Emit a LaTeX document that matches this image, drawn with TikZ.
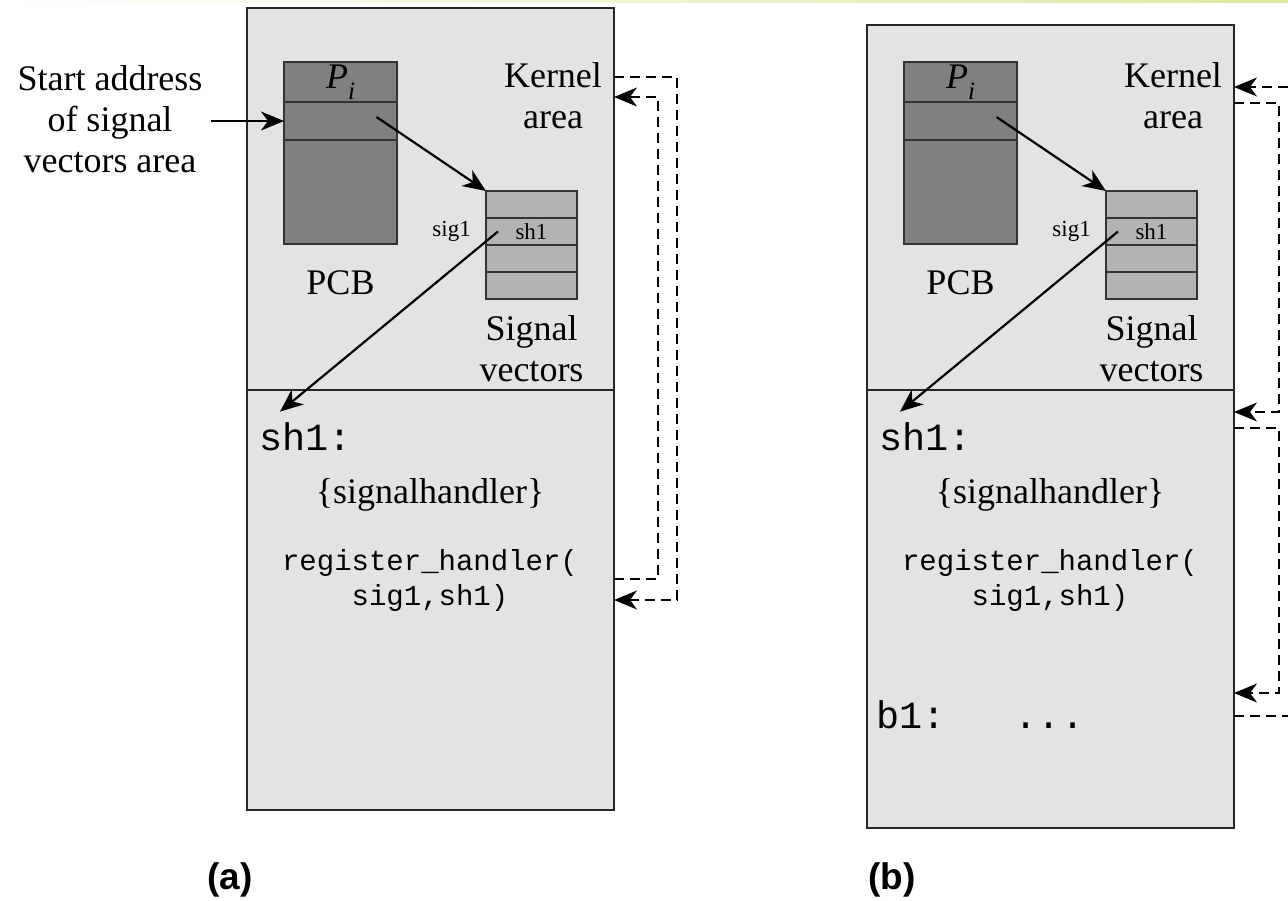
\documentclass[tikz,border=0pt]{standalone}
\usepackage{fontspec}
\setmainfont{Liberation Serif}
\setsansfont{Liberation Sans}
\setmonofont{Liberation Mono}
\usetikzlibrary{positioning,arrows.meta}
\definecolor{zonegray}{HTML}{E3E3E3}
\definecolor{pcbgray}{HTML}{808080}
\definecolor{vecgray}{HTML}{B3B3B3}
\definecolor{bargreen}{HTML}{DCE9A0}
\newcommand{\bigserif}{\fontsize{36}{41}\selectfont}
\newcommand{\smallserif}{\fontsize{23}{26}\selectfont}
\newcommand{\codebig}{\fontsize{38.5}{44}\selectfont\ttfamily}
\newcommand{\codesmall}{\fontsize{29}{35}\selectfont\ttfamily}
\newcommand{\panelfont}{\fontsize{37}{40}\selectfont\sffamily\bfseries}
\newcommand{\procname}{\itshape P\raisebox{-0.3em}{\fontsize{25}{25}\selectfont i}}

\begin{document}
\begin{tikzpicture}[x=1pt, y=-1pt, >={Stealth[length=23pt,width=19pt,inset=7pt]}, font=\bigserif]
        \tikzstyle{zone} = [rectangle, draw=black!85, fill=zonegray, line width=1.6pt,
                            minimum width=367pt, inner sep=0pt, outer sep=0pt]
        \tikzstyle{pcbcell} = [rectangle, draw=black!80, fill=pcbgray, line width=1.6pt,
                            minimum width=113pt, inner sep=0pt, outer sep=0pt]
        \tikzstyle{veccell} = [rectangle, draw=black!80, fill=vecgray, line width=1.6pt, font=\smallserif,
                            minimum width=91pt, minimum height=27pt, inner sep=0pt, outer sep=0pt]
        \tikzstyle{txt} = [align=center, inner sep=0pt]
        \tikzstyle{ptr} = [->, line width=2.2pt]
        \tikzstyle{ctrlflow} = [->, line width=1.4pt, dash pattern=on 10pt off 6pt]

        \useasboundingbox (0,0) rectangle (1288,901);
        \shade[left color=white, right color=bargreen] (0,0) rectangle (1288,3);

        % Partie (a)
        \node[zone, minimum height=382pt] (kernelA) at (430.5,199) {};
        \node[zone, minimum height=420pt, below=0pt of kernelA] (userA) {};
        \node[pcbcell, minimum height=40pt] (piA) at (340.5,82) {\procname};
        \node[pcbcell, minimum height=38pt, below=0pt of piA] (ptrA) {};
        \node[pcbcell, minimum height=104pt, below=0pt of ptrA] (restA) {};
        \node[txt, below=26pt of restA] (pcbA) {PCB};
        \node[veccell] (sv1A) at (531.5,204.5) {};
        \node[veccell, below=0pt of sv1A] (sv2A) {sh1};
        \node[veccell, below=0pt of sv2A] (sv3A) {};
        \node[veccell, below=0pt of sv3A] (sv4A) {};
        \node[txt, font=\smallserif, left=15pt of sv2A] (sigA) {sig1};
        \node[txt, below=16pt of sv4A] (svlabA) {Signal\\vectors};
        \node[txt] (kernA) at (553,96) {Kernel\\area};
        \node[txt] (startA) at (110,119) {Start address\\of signal\\vectors area};
        \node[txt, font=\codebig, anchor=west] (shA) at (259,437) {sh1:};
        \node[txt] (handA) at (430,495) {\{signalhandler\}};
        \node[txt, font=\codesmall] (regA) at (430,580) {register\_handler(\\sig1,sh1)};
        \node[txt, font=\panelfont] (labA) at (230,880) {(a)};

        % Partie (b)
        \node[zone, minimum height=365pt] (kernelB) at (1050.5,207.5) {};
        \node[zone, minimum height=438pt, below=0pt of kernelB] (userB) {};
        \node[pcbcell, minimum height=40pt] (piB) at (960.5,82) {\procname};
        \node[pcbcell, minimum height=38pt, below=0pt of piB] (ptrB) {};
        \node[pcbcell, minimum height=104pt, below=0pt of ptrB] (restB) {};
        \node[txt, below=26pt of restB] (pcbB) {PCB};
        \node[veccell] (sv1B) at (1151.5,204.5) {};
        \node[veccell, below=0pt of sv1B] (sv2B) {sh1};
        \node[veccell, below=0pt of sv2B] (sv3B) {};
        \node[veccell, below=0pt of sv3B] (sv4B) {};
        \node[txt, font=\smallserif, left=15pt of sv2B] (sigB) {sig1};
        \node[txt, below=16pt of sv4B] (svlabB) {Signal\\vectors};
        \node[txt] (kernB) at (1173,96) {Kernel\\area};
        \node[txt, font=\codebig, anchor=west] (shB) at (879,437) {sh1:};
        \node[txt] (handB) at (1050,495) {\{signalhandler\}};
        \node[txt, font=\codesmall] (regB) at (1050,580) {register\_handler(\\sig1,sh1)};
        \node[txt, font=\codebig, anchor=west] (b1B) at (876,715) {b1:\ \ \ ...};
        \node[txt, font=\panelfont] (labB) at (892,880) {(b)};
        \coordinate (inB) at (1288,87);
        \coordinate (outB) at (1288,716);

        % Flèches
        \draw[ptr] ([xshift=8pt]startA.east |- ptrA.west) -- (ptrA.west);
        \draw[ptr] ([xshift=36pt,yshift=4pt]ptrA.center) -- (sv1A.north west);
        \draw[ptr] ([xshift=12pt]sv2A.west) -- ([xshift=21pt,yshift=11pt]shA.north west);
        \draw[ptr] ([xshift=36pt,yshift=4pt]ptrB.center) -- (sv1B.north west);
        \draw[ptr] ([xshift=12pt]sv2B.west) -- ([xshift=21pt,yshift=11pt]shB.north west);

        % Flèches en pointillés
        \draw[ctrlflow] ([yshift=-69pt]kernelA.north east) -- ++(63,0) |- (userA.east);
        \draw[ctrlflow] ([yshift=21pt]userA.east) -- ++(44,0) |- ([yshift=-89pt]kernelA.north east);
        \draw[ctrlflow] (inB) -- (inB -| kernelB.east);
        \draw[ctrlflow] ([yshift=-78pt]kernelB.north east) -- ++(45,0) |- ([yshift=-22pt]userB.north east);
        \draw[ctrlflow] ([yshift=-38pt]userB.north east) -- ++(45,0) |- ([yshift=-303pt]userB.north east);
        \draw[ctrlflow, -] ([yshift=-326pt]userB.north east) -- (outB);
    \end{tikzpicture}
\end{document}
